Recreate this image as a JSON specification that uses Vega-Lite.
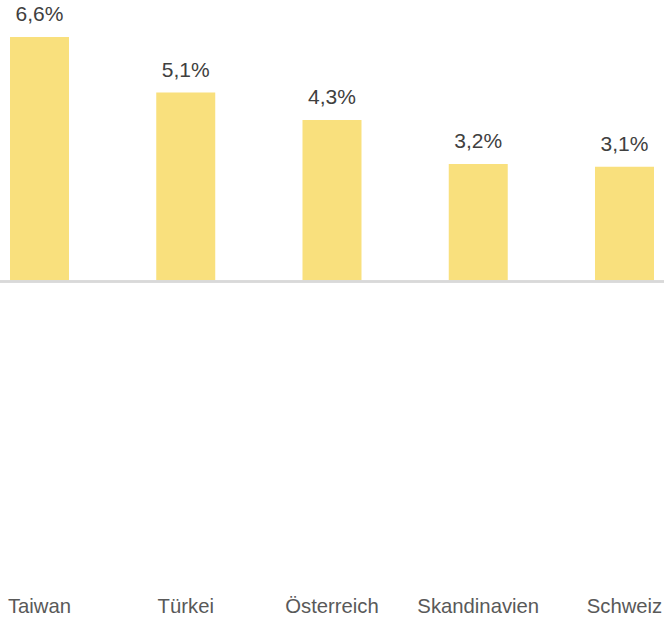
{
  "$schema": "https://vega.github.io/schema/vega-lite/v6.json",
  "width": 664,
  "height": 590,
  "padding": {"left": 0, "top": 0, "right": 2, "bottom": 27},
  "autosize": {"type": "none"},
  "background": "white",
  "config": {"view": {"stroke": null}},
  "data": {"values": [
    {"land": "Taiwan", "wert": 6.6, "label": "6,6%"},
    {"land": "Türkei", "wert": 5.1, "label": "5,1%"},
    {"land": "Österreich", "wert": 4.36, "label": "4,3%"},
    {"land": "Skandinavien", "wert": 3.17, "label": "3,2%"},
    {"land": "Schweiz", "wert": 3.1, "label": "3,1%"}
  ]},
  "encoding": {
    "x": {
      "field": "land", "type": "nominal", "sort": null,
      "scale": {"paddingInner": 0.5966, "paddingOuter": 0.0684},
      "axis": {"title": null, "domain": false, "ticks": false, "labelAngle": 0, "labelFont": "Liberation Sans", "labelFontSize": 20.3, "labelColor": "#595959", "labelPadding": 6}
    },
    "y": {
      "field": "wert", "type": "quantitative",
      "scale": {"domain": [-8.33, 7.6], "nice": false, "zero": false},
      "axis": null
    }
  },
  "layer": [
    {"mark": {"type": "bar", "color": "#F9E07D"}},
    {"mark": {"type": "text", "baseline": "alphabetic", "dy": -16, "font": "Liberation Sans", "fontSize": 21, "color": "#404040"}, "encoding": {"text": {"field": "label"}}},
    {"mark": {"type": "rule", "color": "#D9D9D9", "strokeWidth": 2}, "encoding": {"y": {"datum": 0}, "x": null}}
  ]
}
